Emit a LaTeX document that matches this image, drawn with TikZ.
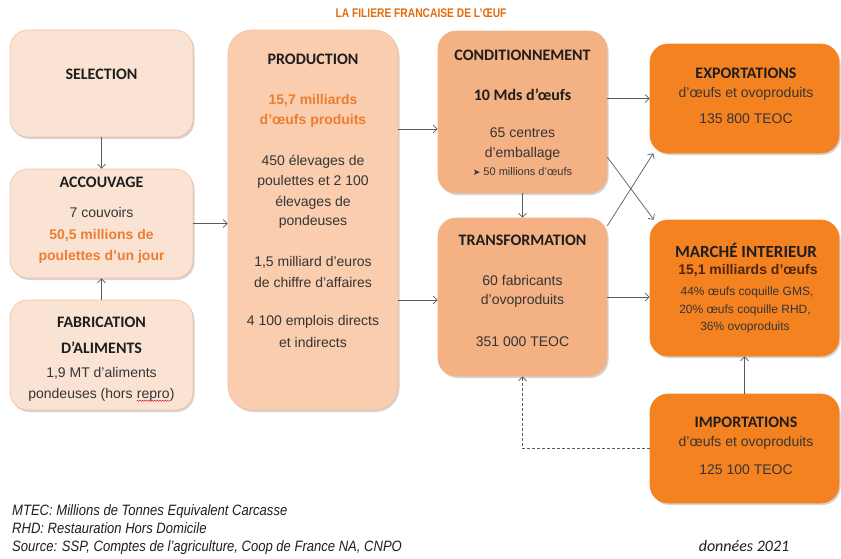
\documentclass[tikz,border=0pt]{standalone}
\usepackage{fontspec}
\setmainfont{Liberation Sans}
\newfontfamily\hdfont{Carlito}
\newfontfamily\narrowfont{Liberation Sans}[FakeStretch=0.82]
\newfontfamily\notefont{Liberation Sans}[FakeStretch=0.87]
\newfontfamily\symfont{DejaVu Sans}
\usetikzlibrary{arrows.meta,shadows,decorations.pathmorphing}

\definecolor{paleA}{HTML}{FBE3D3}
\definecolor{paleB}{HTML}{F9CDAD}
\definecolor{paleC}{HTML}{F4B183}
\definecolor{deep}{HTML}{F58220}
\definecolor{edgeA}{HTML}{F3BE9A}
\definecolor{orangetxt}{HTML}{ED7D31}
\definecolor{titletxt}{HTML}{E26B0A}
\definecolor{bodytxt}{HTML}{353535}
\definecolor{headtxt}{HTML}{1E1E1E}
\definecolor{browntxt}{HTML}{4D2609}
\definecolor{linegray}{HTML}{5A5A5A}

\tikzset{
  box/.style={rectangle, rounded corners=18pt, inner sep=0pt, line width=0.6pt,
    drop shadow={shadow xshift=1.5pt, shadow yshift=-2pt, opacity=0.28, fill=black!60}},
  hd/.style={font=\hdfont\bfseries\fontsize{16}{18}\selectfont, text=headtxt, inner sep=0pt},
  bt/.style={font=\fontsize{14}{16}\selectfont, text=bodytxt, inner sep=0pt},
  ob/.style={font=\bfseries\fontsize{14}{16}\selectfont, text=orangetxt, inner sep=0pt},
  st/.style={font=\fontsize{12}{14}\selectfont, text=bodytxt, inner sep=0pt},
  note/.style={font=\notefont\itshape\fontsize{15}{17}\selectfont, text=headtxt, inner sep=0pt, anchor=base west},
  arr/.style={draw=linegray, line width=0.7pt, -{Straight Barb[length=4pt,width=8pt]}},
}

\begin{document}
\begin{tikzpicture}[x=1pt,y=-1pt]
\useasboundingbox (0,0) rectangle (841,558);

% title
\node[font=\narrowfont\bfseries\fontsize{12.5}{14}\selectfont, text=titletxt, inner sep=0pt]
  (title) at (421,13) {LA FILIERE FRANCAISE DE L’ŒUF};

% boxes
\node[box, fill=paleA, draw=edgeA, minimum width=183pt, minimum height=107pt] (sel) at (101.5,83.5) {};
\node[box, fill=paleA, draw=edgeA, minimum width=183pt, minimum height=109pt] (acc) at (101.5,223.5) {};
\node[box, fill=paleA, draw=edgeA, minimum width=183pt, minimum height=110pt] (fab) at (101.5,355) {};
\node[box, fill=paleB, draw=edgeA, rounded corners=24pt, minimum width=170pt, minimum height=380pt] (prod) at (313,220) {};
\node[box, fill=paleC, draw=paleC, minimum width=169pt, minimum height=162pt] (cond) at (522.5,112) {};
\node[box, fill=paleC, draw=paleC, minimum width=169pt, minimum height=158pt] (trans) at (522.5,297) {};
\node[box, fill=deep, draw=deep, minimum width=189pt, minimum height=109pt] (exp) at (744.5,98.5) {};
\node[box, fill=deep, draw=deep, minimum width=189pt, minimum height=136pt] (mar) at (744.5,288) {};
\node[box, fill=deep, draw=deep, minimum width=189pt, minimum height=109pt] (imp) at (744.5,448.5) {};

% selection
\node[hd] (selT) at (101.5,74) {SELECTION};

% accouvage
\node[hd] (accT) at (101.5,182) {ACCOUVAGE};
\node[bt] (acc1) at (101.5,212) {7 couvoirs};
\node[ob] (acc2) at (101.5,236) {50,5 millions de};
\node[ob] (acc3) at (101.5,257) {poulettes d’un jour};

% fabrication d'aliments
\node[hd] (fabT) at (101.5,322) {FABRICATION};
\node[hd] (fabT2) at (101.5,348) {D’ALIMENTS};
\node[bt] (fab1) at (101.5,373) {1,9 MT d’aliments};
\node[bt] (fab2) at (101.5,395) {pondeuses (hors \tikz[baseline]{\node[inner sep=0pt,anchor=base] (rp) {repro};
  \draw[red!85!black, line width=0.4pt, decorate, decoration={snake, amplitude=0.6pt, segment length=2.5pt}]
  ([yshift=-2.2pt]rp.base west) -- ([yshift=-2.2pt]rp.base east);})};

% production
\node[hd] (prodT) at (313,59) {PRODUCTION};
\node[ob] (prod1) at (313,101) {15,7 milliards};
\node[ob] (prod2) at (313,121) {d’œufs produits};
\node[bt] (prod3) at (313,162) {450 élevages de};
\node[bt] (prod4) at (313,182) {poulettes et 2 100};
\node[bt] (prod5) at (313,203) {élevages de};
\node[bt] (prod6) at (313,222) {pondeuses};
\node[bt] (prod7) at (313,262) {1,5 milliard d’euros};
\node[bt] (prod8) at (313,282) {de chiffre d’affaires};
\node[bt] (prod9) at (313,322) {4 100 emplois directs};
\node[bt] (prod10) at (313,342) {et indirects};

% conditionnement
\node[hd] (condT) at (522.5,55) {CONDITIONNEMENT};
\node[hd] (cond1) at (522.5,95) {10 Mds d’œufs};
\node[bt] (cond2) at (522.5,133) {65 centres};
\node[bt] (cond3) at (522.5,154) {d’emballage};
\node[font=\fontsize{11}{13}\selectfont, text=bodytxt, inner sep=0pt] (cond4) at (522.5,172)
  {{\symfont\fontsize{9}{11}\selectfont ➤} 50 millions d’œufs};

% transformation
\node[hd] (transT) at (522.5,240) {TRANSFORMATION};
\node[bt] (trans1) at (522.5,280) {60 fabricants};
\node[bt] (trans2) at (522.5,301) {d’ovoproduits};
\node[bt] (trans3) at (522.5,342) {351 000 TEOC};

% exportations
\node[hd] (expT) at (746,73) {EXPORTATIONS};
\node[bt] (exp1) at (746,94) {d’œufs et ovoproduits};
\node[bt] (exp2) at (746,119) {135 800 TEOC};

% marche interieur
\node[hd, font=\hdfont\bfseries\fontsize{17}{19}\selectfont] (marT) at (746,250) {MARCHÉ INTERIEUR};
\node[bt, font=\bfseries\fontsize{14}{16}\selectfont, text=browntxt] (mar1) at (748,271) {15,1 milliards d’œufs};
\node[st] (mar2) at (747,292) {44\% œufs coquille GMS,};
\node[st] (mar3) at (745,310) {20\% œufs coquille RHD,};
\node[st] (mar4) at (745,327) {36\% ovoproduits};

% importations
\node[hd] (impT) at (746,422) {IMPORTATIONS};
\node[bt] (imp1) at (746,443) {d’œufs et ovoproduits};
\node[bt] (imp2) at (746,470) {125 100 TEOC};

% helper levels for horizontal links
\coordinate (lvA) at (0,129);
\coordinate (lvB) at (0,300);

% connectors
\draw[arr] (sel.south) -- (acc.north);
\draw[arr] (fab.north) -- (acc.south);
\draw[arr] (acc.east) -- (acc.east -| prod.west);
\draw[arr] (prod.east |- lvA) -- (cond.west |- lvA);
\draw[arr] (prod.east |- lvB) -- (trans.west |- lvB);
\draw[arr] (cond.south) -- (trans.north);
\draw[arr] (cond.east |- exp.west) -- (exp.west);
\draw[arr] (trans.east) -- (trans.east -| mar.west);
\draw[arr] (cond.-28.6) -- (mar.143.6);
\draw[arr] (trans.40.3) -- (exp.211.3);
\draw[arr] (imp.north) -- (mar.south);
\draw[arr, dash pattern=on 3pt off 2pt] (imp.west) -| (trans.south);

% notes
\node[note] (n1) at (12,515) {MTEC: Millions de Tonnes Equivalent Carcasse};
\node[note] (n2) at (12,533) {RHD: Restauration Hors Domicile};
\node[note] (n3) at (12,551) {Source: SSP, Comptes de l’agriculture, Coop de France NA, CNPO};
\node[font=\hdfont\itshape\fontsize{16}{18}\selectfont, text=headtxt, inner sep=0pt, anchor=base] (yr) at (744,551) {données 2021};
\end{tikzpicture}
\end{document}
